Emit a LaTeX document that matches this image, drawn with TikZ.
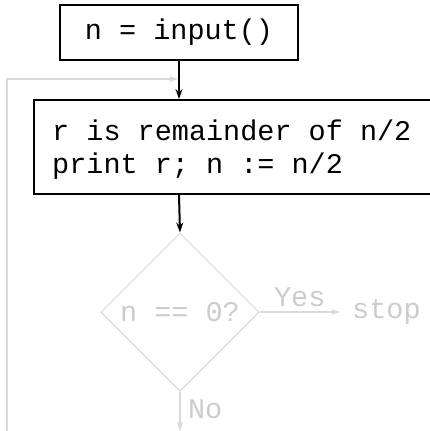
\documentclass[tikz,border=0pt]{standalone}
\usepackage{fontspec}
\setmonofont[WordSpace={1,0,0}]{Liberation Mono}
\usetikzlibrary{shapes.geometric,arrows.meta}
\definecolor{lg}{HTML}{D9D9D9}
\definecolor{lgt}{HTML}{CCCCCC}
\tikzset{
  box/.style={draw=black,line width=2pt,inner sep=0pt,font=\fontsize{28.5}{33}\selectfont\ttfamily},
  btext/.style={inner sep=0pt,text width=400pt,align=left,font=\fontsize{28.5}{33}\selectfont\ttfamily},
  dec/.style={diamond,draw=lg,line width=1pt,minimum width=158pt,minimum height=158pt,inner sep=0pt,text=lgt,font=\fontsize{28.5}{33}\selectfont\ttfamily},
  gtext/.style={text=lgt,font=\fontsize{28.5}{33}\selectfont\ttfamily,inner sep=0pt},
  blk/.style={draw=black,line width=2pt,-{Stealth[length=10pt,width=7pt]}},
  gry/.style={draw=lg,line width=2pt,-{Stealth[length=9pt,width=6pt]}},
}
\begin{document}
\begin{tikzpicture}[x=1pt,y=-1pt]
\clip (0,0) rectangle (430,431);
\fill[white] (0,0) rectangle (430,431);
\node[box,minimum width=238pt,minimum height=55pt] (inp) at (179,32.5) {n = input()};
\node[box,anchor=north west,minimum width=440pt,minimum height=94pt] (proc) at (33,99) {};
\node[btext,anchor=west] (proctext) at ([xshift=19pt,yshift=-2.5pt]proc.west) {\spaceskip=0pt\xspaceskip=0pt r is remainder of n/2\\print r; n := n/2};
\node[dec] (dec) at (180,312) {n == 0?};
\node[gtext,anchor=west] (stop) at (352,312) {stop};
\coordinate (nod) at (180,431);
\coordinate (ls) at (7,431);
\coordinate (j) at (180,79);
\draw[blk] (inp.south) -- (inp.south |- proc.north);
\draw[blk] (inp.south |- proc.south) -- (dec.north);
\draw[gry] (dec.east) -- node[gtext,above=4pt] (yes) {Yes} ([xshift=-12pt]stop.west);
\draw[gry] (dec.south) -- node[gtext,right=7pt,pos=0.45] (no) {No} (nod);
\draw[gry] (ls) |- ([xshift=-2pt]j);
\end{tikzpicture}
\end{document}
